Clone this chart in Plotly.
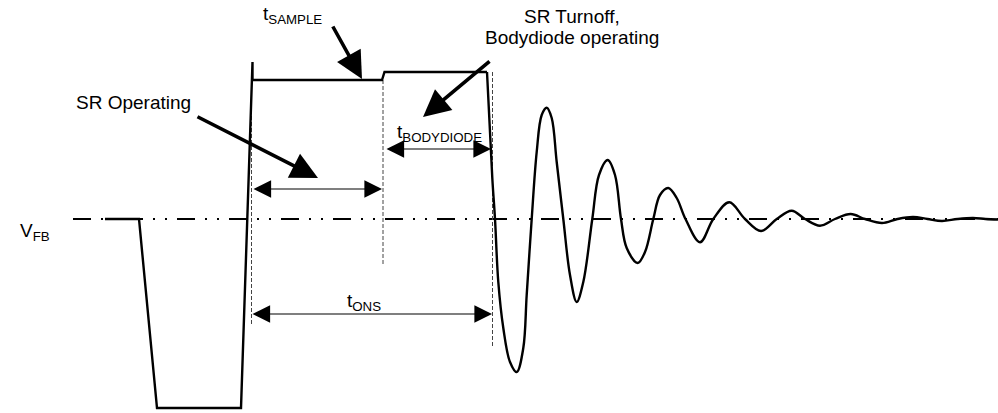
import plotly.graph_objects as go

# ---- waveform data (time in arbitrary units, voltage relative to V_FB = 0) ----
pulse_t = [105, 139, 157, 241, 252.5, 252.5, 382, 384.5, 487]
pulse_v = [0, 0, -189, -189, 157, 139, 139, 147, 147]

ring_t = [487, 492.3, 495, 498.3, 503.3, 510, 516.7, 523.3, 526.7, 531.7,
          536.7, 541.7, 546.7, 551.7, 556.7, 563.3, 570, 576.7, 583.3,
          592.3, 599, 607.7, 615, 621, 626.7, 637.7, 645, 653.3,
          660, 668.3, 676.7, 685.5, 700, 713.3, 729.3, 745, 761, 776.7, 791.7,
          805, 820, 835, 850.7, 865, 882, 897.5, 913, 927.5, 942,
          957.5, 973, 985.5, 998]
ring_v = [147, 41, 0, -63, -109, -143, -153, -129, -76, 0,
          67, 104, 111.3, 101, 57, 0, -56, -83, -63,
          0, 44, 59, 44, 0, -29, -44, -33, 0,
          24, 31, 21, 0, -23.3, 0, 16.7, 0, -12, 0, 8.3,
          0, -6.7, 0, 5, 0, -4, 0, 2, 0, -2,
          0, 1, 0, -0.5]

vfb_t = [73, 998]
vfb_v = [0, 0]

# dashed timing markers: x, top, bottom
marker_t = [251.5, 383, 492.5]
marker_top = [139, 139, 147]
marker_bot = [-106, -45, -129]

# dimension (double-headed) arrows: start, end, level
dim_start = [252, 385, 251]
dim_end = [382, 491, 492]
dim_level = [30, 70, -95]

# pointer arrows: tail (t, v) -> head (t, v)
ptr_tail_t = [332, 196, 491]
ptr_tail_v = [194, 103, 159]
ptr_head_t = [362, 318, 423]
ptr_head_v = [140, 41, 102]

# labels
label_text = ["t<sub>SAMPLE</sub>", "SR Operating", "SR Turnoff,", "Bodydiode operating",
              "t<sub>BODYDIODE</sub>", "t<sub>ONS</sub>", "V<sub>FB</sub>"]
label_t = [292, 133, 572, 572, 439, 364, 35]
label_v = [204, 117, 203, 182, 86, -83, -13]

FONT = "Arial, Liberation Sans, sans-serif"

fig = go.Figure()

fig.add_trace(go.Scatter(x=vfb_t, y=vfb_v, mode="lines",
                         line=dict(color="black", width=2,
                                   dash="18px,10px,2px,10px,2px,10px"),
                         hoverinfo="skip"))

for t, top, bot in zip(marker_t, marker_top, marker_bot):
    fig.add_trace(go.Scatter(x=[t, t], y=[top, bot], mode="lines",
                             line=dict(color="#444", width=1, dash="4px,2px"),
                             hoverinfo="skip"))

fig.add_trace(go.Scatter(x=pulse_t, y=pulse_v, mode="lines",
                         line=dict(color="black", width=2.4), hoverinfo="skip"))
fig.add_trace(go.Scatter(x=ring_t, y=ring_v, mode="lines",
                         line=dict(color="black", width=2.4, shape="spline", smoothing=1.0),
                         hoverinfo="skip"))

annotations = []
for s, e, lv in zip(dim_start, dim_end, dim_level):
    annotations.append(dict(x=e, y=lv, ax=s, ay=lv, xref="x", yref="y",
                            axref="x", ayref="y", text="", showarrow=True,
                            arrowhead=2, arrowside="end+start", arrowsize=3.2,
                            arrowwidth=1.1, arrowcolor="black",
                            standoff=0, startstandoff=0))
for tt, tv, ht, hv in zip(ptr_tail_t, ptr_tail_v, ptr_head_t, ptr_head_v):
    annotations.append(dict(x=ht, y=hv, ax=tt, ay=tv, xref="x", yref="y",
                            axref="x", ayref="y", text="", showarrow=True,
                            arrowhead=2, arrowsize=1.5, arrowwidth=3.6,
                            arrowcolor="black", standoff=0))
for txt, t, v in zip(label_text, label_t, label_v):
    annotations.append(dict(x=t, y=v, xref="x", yref="y", text=txt, showarrow=False,
                            xanchor="center", yanchor="middle",
                            font=dict(family=FONT, size=19, color="black")))

fig.update_layout(
    width=998, height=413,
    margin=dict(l=0, r=0, t=0, b=0),
    paper_bgcolor="white", plot_bgcolor="white",
    showlegend=False,
    xaxis=dict(range=[0, 998], visible=False, fixedrange=True),
    yaxis=dict(range=[-194, 219], visible=False, fixedrange=True),
    annotations=annotations,
)

fig.write_html("out.html", config={"displayModeBar": False, "staticPlot": True},
               post_script="document.body.style.margin='0px';")
